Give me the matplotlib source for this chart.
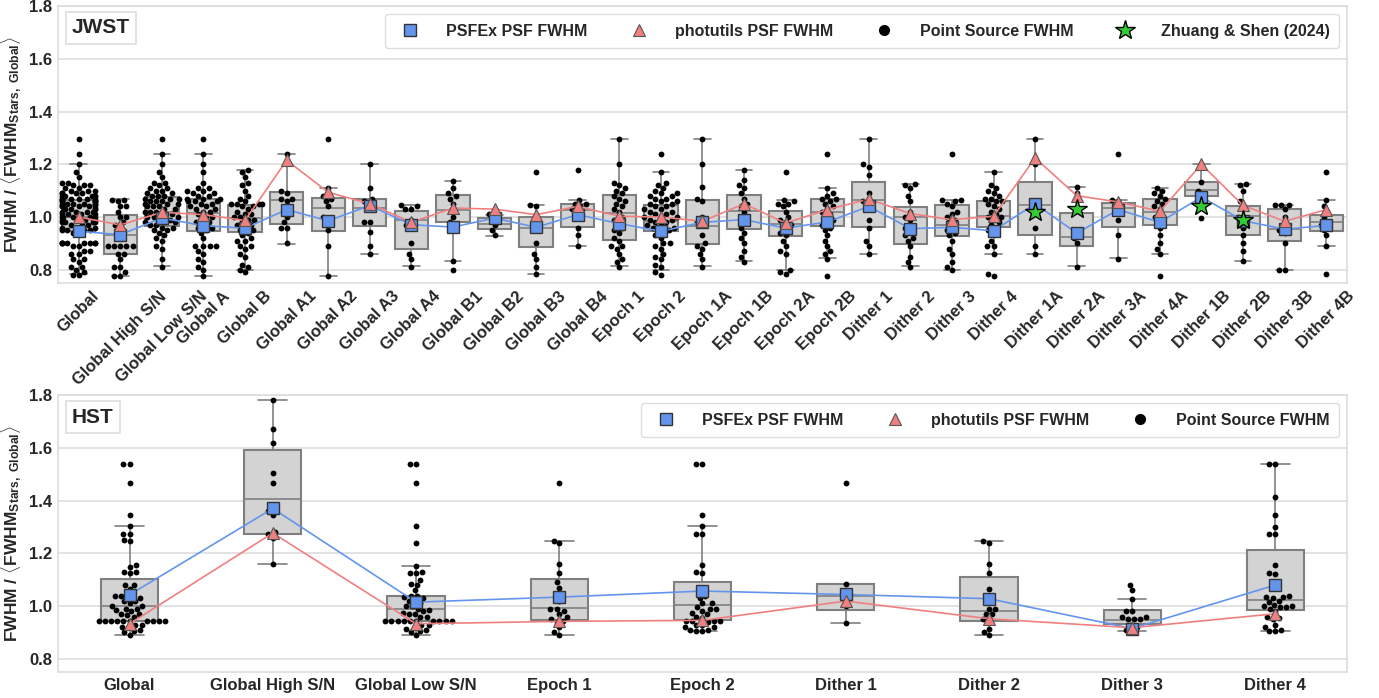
import numpy as np
import pandas as pd
import matplotlib
matplotlib.use('Agg')
import matplotlib.pyplot as plt
from matplotlib.lines import Line2D
import seaborn as sns

# ---------------- JWST data ----------------
jwst_cats = ['Global', 'Global High S/N', 'Global Low S/N', 'Global A', 'Global B',
             'Global A1', 'Global A2', 'Global A3', 'Global A4',
             'Global B1', 'Global B2', 'Global B3', 'Global B4',
             'Epoch 1', 'Epoch 2', 'Epoch 1A', 'Epoch 1B', 'Epoch 2A', 'Epoch 2B',
             'Dither 1', 'Dither 2', 'Dither 3', 'Dither 4',
             'Dither 1A', 'Dither 2A', 'Dither 3A', 'Dither 4A',
             'Dither 1B', 'Dither 2B', 'Dither 3B', 'Dither 4B']

jwst_q1 = [0.946, 0.861, 0.965, 0.948, 0.942, 0.975, 0.948, 0.965, 0.880, 0.981, 0.954,
           0.885, 0.961, 0.914, 0.946, 0.898, 0.956, 0.929, 0.966, 0.964, 0.898, 0.929,
           0.961, 0.930, 0.889, 0.961, 0.971, 1.081, 0.933, 0.910, 0.946]
jwst_med = [1.000, 0.930, 1.020, 1.015, 0.996, 1.066, 1.034, 1.034, 0.990, 1.025, 0.975,
            0.958, 1.028, 1.015, 0.984, 0.965, 1.024, 0.975, 1.019, 1.066, 1.000, 0.971,
            1.002, 1.045, 0.924, 1.035, 1.018, 1.104, 1.005, 0.954, 0.980]
jwst_q3 = [1.066, 1.006, 1.076, 1.068, 1.047, 1.095, 1.072, 1.068, 1.024, 1.082, 0.996,
           1.000, 1.050, 1.082, 1.047, 1.066, 1.082, 1.024, 1.069, 1.131, 1.038, 1.044,
           1.059, 1.131, 1.015, 1.055, 1.069, 1.131, 1.043, 1.030, 1.009]
jwst_lo = [0.785, 0.775, 0.813, 0.775, 0.800, 0.898, 0.775, 0.861, 0.813, 0.834, 0.929,
           0.784, 0.889, 0.813, 0.800, 0.813, 0.834, 0.800, 0.844, 0.861, 0.813, 0.800,
           0.861, 0.861, 0.813, 0.844, 0.861, 1.081, 0.834, 0.800, 0.889]
jwst_hi = [1.200, 1.068, 1.240, 1.240, 1.180, 1.240, 1.110, 1.200, 1.044, 1.135, 1.009,
           1.044, 1.066, 1.296, 1.170, 1.296, 1.180, 1.066, 1.110, 1.296, 1.125, 1.066,
           1.170, 1.296, 1.113, 1.066, 1.110, 1.200, 1.125, 1.047, 1.066]

jwst_psfex = [0.946, 0.933, 0.996, 0.967, 0.958, 1.028, 0.986, 1.043, 0.971, 0.962, 0.996,
              0.961, 1.009, 0.975, 0.946, 0.980, 0.990, 0.958, 0.981, 1.040, 0.956, 0.961,
              0.948, 1.050, 0.939, 1.028, 0.980, 1.076, 0.986, 0.954, 0.968]
jwst_photutils = [1.000, 0.970, 1.018, 1.009, 0.987, 1.215, 1.094, 1.050, 0.980, 1.034, 1.030,
                  1.009, 1.040, 1.003, 1.000, 0.984, 1.050, 0.977, 1.028, 1.068, 1.013, 0.990,
                  1.003, 1.224, 1.081, 1.057, 1.022, 1.200, 1.044, 0.984, 1.028]

zs_cats = ['Dither 1A', 'Dither 2A', 'Dither 1B', 'Dither 2B']
zs_vals = [1.018, 1.030, 1.040, 0.987]

jwst_points = {
    'Global': [1.296, 1.24, 1.2, 1.17, 1.15, 1.13, 1.13, 1.12, 1.12, 1.12, 1.11, 1.11,
               1.10, 1.10, 1.10, 1.09, 1.09, 1.09, 1.09, 1.08, 1.08, 1.08, 1.08, 1.08,
               1.07, 1.07, 1.07, 1.07, 1.07, 1.07, 1.06, 1.06, 1.06, 1.06, 1.06,
               1.05, 1.05, 1.05, 1.05, 1.05, 1.05, 1.04, 1.04, 1.04, 1.04, 1.04,
               1.03, 1.03, 1.03, 1.03, 1.02, 1.02, 1.02, 1.02, 1.01, 1.01, 1.01, 1.01,
               1.0, 1.0, 1.0, 1.0, 1.0, 0.99, 0.99, 0.99, 0.99, 0.98, 0.98, 0.98, 0.98,
               0.97, 0.97, 0.97, 0.96, 0.96, 0.96, 0.95, 0.95, 0.95, 0.95, 0.94, 0.94,
               0.90, 0.90, 0.90, 0.90, 0.90, 0.90, 0.90, 0.90, 0.89, 0.89, 0.87, 0.87,
               0.86, 0.86, 0.84, 0.84, 0.83, 0.81, 0.81, 0.80, 0.79, 0.78, 0.78],
    'Global High S/N': [1.065, 1.065, 1.06, 1.04, 1.04, 1.02, 1.0, 1.0, 0.98, 0.97, 0.96,
                        0.89, 0.89, 0.89, 0.89, 0.89, 0.86, 0.86, 0.84, 0.81, 0.81, 0.79,
                        0.775, 0.775],
    'Global Low S/N': [1.296, 1.24, 1.2, 1.17, 1.15, 1.13, 1.13, 1.12, 1.11, 1.11, 1.10, 1.10,
                       1.09, 1.09, 1.08, 1.08, 1.08, 1.07, 1.07, 1.07, 1.06, 1.06, 1.06,
                       1.05, 1.05, 1.05, 1.04, 1.04, 1.04, 1.03, 1.03, 1.02, 1.02, 1.02,
                       1.01, 1.01, 1.0, 1.0, 1.0, 0.99, 0.99, 0.98, 0.98, 0.98, 0.97, 0.97,
                       0.96, 0.96, 0.95, 0.95, 0.94, 0.93, 0.92, 0.91, 0.89, 0.88, 0.84, 0.81],
    'Global A': [1.296, 1.24, 1.2, 1.17, 1.13, 1.11, 1.11, 1.10, 1.10, 1.09, 1.09, 1.08,
                 1.08, 1.07, 1.07, 1.07, 1.06, 1.06, 1.06, 1.05, 1.05, 1.04, 1.04, 1.03,
                 1.03, 1.02, 1.02, 1.01, 1.0, 1.0, 0.99, 0.98, 0.98, 0.97, 0.96, 0.96,
                 0.95, 0.94, 0.92, 0.89, 0.89, 0.89, 0.89, 0.87, 0.86, 0.84, 0.83, 0.81,
                 0.80, 0.775],
    'Global B': [1.18, 1.17, 1.15, 1.13, 1.12, 1.10, 1.08, 1.07, 1.06, 1.05, 1.05, 1.05,
                 1.05, 1.04, 1.04, 1.03, 1.02, 1.01, 1.01, 1.0, 1.0, 0.99, 0.99, 0.98,
                 0.97, 0.97, 0.96, 0.95, 0.95, 0.94, 0.93, 0.92, 0.91, 0.91, 0.89, 0.89,
                 0.88, 0.86, 0.85, 0.82, 0.81, 0.80, 0.79],
    'Global A1': [1.24, 1.10, 1.09, 1.07, 1.07, 1.06, 1.0, 0.98, 0.96, 0.96, 0.90],
    'Global A2': [1.296, 1.11, 1.08, 1.07, 1.06, 1.04, 1.0, 0.99, 0.95, 0.89, 0.775],
    'Global A3': [1.2, 1.11, 1.07, 1.06, 1.05, 0.98, 0.98, 0.945, 0.89, 0.86],
    'Global A4': [1.045, 1.04, 1.03, 1.03, 0.99, 0.97, 0.96, 0.90, 0.86, 0.84, 0.81],
    'Global B1': [1.135, 1.11, 1.09, 1.08, 1.07, 1.05, 1.0, 0.98, 0.96, 0.834, 0.80],
    'Global B2': [1.01, 1.0, 0.99, 0.97, 0.95, 0.93],
    'Global B3': [1.17, 1.045, 1.04, 0.96, 0.90, 0.86, 0.84, 0.81, 0.785],
    'Global B4': [1.18, 1.065, 1.05, 1.05, 1.04, 1.03, 1.02, 0.96, 0.93, 0.89],
    'Epoch 1': [1.296, 1.2, 1.13, 1.12, 1.11, 1.10, 1.09, 1.08, 1.07, 1.06, 1.05, 1.04,
                1.03, 1.02, 1.0, 0.99, 0.98, 0.96, 0.95, 0.94, 0.92, 0.91, 0.89, 0.89,
                0.88, 0.86, 0.84, 0.83, 0.81],
    'Epoch 2': [1.24, 1.17, 1.13, 1.12, 1.11, 1.10, 1.09, 1.09, 1.08, 1.08, 1.07, 1.07,
                1.06, 1.06, 1.05, 1.05, 1.04, 1.04, 1.03, 1.03, 1.02, 1.02, 1.01, 1.01,
                1.0, 1.0, 1.0, 0.99, 0.99, 0.98, 0.98, 0.97, 0.97, 0.96, 0.96, 0.95, 0.95,
                0.94, 0.93, 0.92, 0.90, 0.90, 0.89, 0.88, 0.86, 0.85, 0.84, 0.82, 0.81,
                0.79, 0.78],
    'Epoch 1A': [1.296, 1.2, 1.115, 1.07, 1.06, 1.0, 0.98, 0.97, 0.93, 0.90, 0.89, 0.88,
                 0.86, 0.84, 0.81],
    'Epoch 1B': [1.18, 1.14, 1.12, 1.11, 1.09, 1.07, 1.05, 1.04, 1.02, 1.0, 0.98, 0.96,
                 0.94, 0.92, 0.90, 0.87, 0.85, 0.83],
    'Epoch 2A': [1.17, 1.065, 1.06, 1.05, 1.05, 1.04, 1.02, 1.0, 0.99, 0.98, 0.97, 0.96,
                 0.95, 0.94, 0.93, 0.91, 0.89, 0.87, 0.86, 0.80, 0.79, 0.785],
    'Epoch 2B': [1.24, 1.11, 1.09, 1.08, 1.07, 1.07, 1.06, 1.05, 1.04, 1.03, 1.02, 1.01,
                 1.0, 0.99, 0.98, 0.97, 0.96, 0.95, 0.93, 0.91, 0.89, 0.87, 0.86, 0.84, 0.775],
    'Dither 1': [1.296, 1.2, 1.19, 1.16, 1.09, 1.06, 1.05, 0.99, 0.96, 0.91, 0.89, 0.86],
    'Dither 2': [1.125, 1.12, 1.11, 1.08, 1.06, 1.02, 1.0, 0.99, 0.96, 0.95, 0.93, 0.92,
                 0.91, 0.89, 0.85, 0.83, 0.81],
    'Dither 3': [1.24, 1.066, 1.065, 1.06, 1.05, 1.04, 1.02, 1.01, 1.0, 0.99, 0.98, 0.96,
                 0.95, 0.94, 0.93, 0.91, 0.88, 0.86, 0.83, 0.81, 0.80],
    'Dither 4': [1.17, 1.12, 1.11, 1.10, 1.09, 1.08, 1.07, 1.07, 1.06, 1.06, 1.05, 1.04,
                 1.03, 1.02, 1.01, 1.0, 1.0, 0.99, 0.98, 0.97, 0.96, 0.95, 0.94, 0.91,
                 0.89, 0.89, 0.86, 0.785, 0.775],
    'Dither 1A': [1.296, 1.2, 1.06, 0.96, 0.89, 0.86],
    'Dither 2A': [1.113, 1.09, 0.92, 0.90, 0.81],
    'Dither 3A': [1.24, 1.066, 1.06, 0.99, 0.93, 0.84],
    'Dither 4A': [1.11, 1.10, 1.09, 1.08, 1.07, 1.06, 1.05, 1.04, 1.03, 1.0, 0.99, 0.98,
                  0.96, 0.93, 0.90, 0.88, 0.86, 0.775],
    'Dither 1B': [1.2, 1.131, 1.10, 1.081, 0.996],
    'Dither 2B': [1.125, 1.12, 1.10, 1.06, 1.04, 1.0, 0.99, 0.96, 0.93, 0.90, 0.87, 0.834],
    'Dither 3B': [1.047, 1.047, 1.047, 1.03, 1.0, 0.96, 0.95, 0.94, 0.90, 0.80, 0.80],
    'Dither 4B': [1.17, 1.066, 1.04, 1.02, 1.0, 0.98, 0.97, 0.96, 0.95, 0.93, 0.889, 0.784],
}

# ---------------- HST data ----------------
hst_cats = ['Global', 'Global High S/N', 'Global Low S/N', 'Epoch 1', 'Epoch 2',
            'Dither 1', 'Dither 2', 'Dither 3', 'Dither 4']
hst_q1 = [0.943, 1.273, 0.943, 0.946, 0.946, 0.986, 0.943, 0.933, 0.986]
hst_med = [1.000, 1.405, 0.990, 0.992, 1.003, 1.038, 0.981, 0.948, 1.024]
hst_q3 = [1.103, 1.591, 1.038, 1.103, 1.093, 1.084, 1.109, 0.984, 1.214]
hst_lo = [0.889, 1.160, 0.889, 0.889, 0.904, 0.936, 0.889, 0.906, 0.906]
hst_hi = [1.303, 1.782, 1.153, 1.248, 1.303, 1.084, 1.248, 1.028, 1.540]
hst_psfex = [1.043, 1.370, 1.015, 1.034, 1.057, 1.044, 1.028, 0.915, 1.080]
hst_photutils = [0.933, 1.277, 0.933, 0.942, 0.946, 1.019, 0.952, 0.918, 0.971]

hst_points = {
    'Global': [1.54, 1.54, 1.468, 1.346, 1.303, 1.275, 1.275, 1.25, 1.245, 1.155, 1.15,
               1.13, 1.125, 1.13, 1.08, 1.08, 1.065, 1.04, 1.04, 1.04, 1.03, 1.02, 1.02,
               1.01, 1.0, 1.0, 0.99, 0.99, 0.985, 0.98, 0.97, 0.97, 0.965, 0.96,
               0.945, 0.945, 0.945, 0.945, 0.945, 0.945, 0.945, 0.945, 0.945, 0.945,
               0.93, 0.93, 0.92, 0.92, 0.91, 0.905, 0.9, 0.889],
    'Global High S/N': [1.782, 1.67, 1.62, 1.505, 1.465, 1.36, 1.345, 1.28, 1.275, 1.26, 1.16],
    'Global Low S/N': [1.54, 1.54, 1.468, 1.303, 1.24, 1.153, 1.13, 1.125, 1.125, 1.10,
                       1.085, 1.08, 1.06, 1.04, 1.04, 1.035, 1.03, 1.02, 1.02, 1.01, 1.0,
                       1.0, 0.99, 0.985, 0.98, 0.975, 0.97, 0.97, 0.96, 0.96,
                       0.945, 0.945, 0.945, 0.945, 0.945, 0.945, 0.945, 0.945, 0.945,
                       0.945, 0.93, 0.93, 0.92, 0.915, 0.91, 0.905, 0.9, 0.889],
    'Epoch 1': [1.468, 1.248, 1.24, 1.16, 1.125, 1.09, 1.07, 1.04, 1.02, 0.99, 0.99, 0.98,
                0.97, 0.96, 0.95, 0.945, 0.94, 0.92, 0.9, 0.889],
    'Epoch 2': [1.54, 1.54, 1.346, 1.303, 1.275, 1.275, 1.155, 1.13, 1.125, 1.07, 1.04,
                1.03, 1.01, 1.01, 0.995, 0.99, 0.99, 0.98, 0.975, 0.97, 0.96, 0.955,
                0.945, 0.945, 0.945, 0.945, 0.94, 0.93, 0.93, 0.92, 0.92, 0.91, 0.91,
                0.904, 0.904],
    'Dither 1': [1.468, 1.084, 1.04, 1.0, 0.936],
    'Dither 2': [1.248, 1.24, 1.16, 1.125, 1.065, 0.99, 0.99, 0.97, 0.97, 0.95, 0.95,
                 0.915, 0.9, 0.889],
    'Dither 3': [1.08, 1.06, 1.028, 0.98, 0.98, 0.96, 0.96, 0.95, 0.95, 0.95, 0.93, 0.92,
                 0.91, 0.906],
    'Dither 4': [1.54, 1.54, 1.415, 1.345, 1.30, 1.275, 1.275, 1.155, 1.125, 1.12, 1.04,
                 1.035, 1.035, 1.03, 1.02, 1.015, 1.005, 1.0, 1.0, 0.995, 0.99, 0.995,
                 0.98, 0.96, 0.955, 0.95, 0.93, 0.92, 0.91, 0.906, 0.906],
}

# ---------------- style ----------------
sns.set_style('whitegrid')
plt.rcParams['font.family'] = ['Liberation Sans', 'DejaVu Sans']
plt.rcParams['font.weight'] = 'bold'
plt.rcParams['mathtext.fontset'] = 'custom'
plt.rcParams['mathtext.rm'] = 'Liberation Sans:bold'
plt.rcParams['mathtext.bf'] = 'Liberation Sans:bold'
plt.rcParams['mathtext.it'] = 'Liberation Sans:bold'

BLUE = '#6495ED'
PINK = '#F08080'
GREEN = '#32CD32'
TXT = '#262626'
ylab = r'FWHM / $\langle$FWHM$_{\mathbf{Stars,\ Global}}\rangle$'

fig = plt.figure(figsize=(13.79, 6.98), dpi=100)
ax1 = fig.add_axes([0.042, 0.5946, 0.9348, 0.3968])
ax2 = fig.add_axes([0.042, 0.0372, 0.9348, 0.3968])


def draw_panel(ax, cats, points, q1, med, q3, lo, hi, psfex, phot, width):
    n = len(cats)
    ax.set_ylim(0.75, 1.8)
    ax.set_xlim(-0.5, n - 0.5)
    stats = [dict(q1=a, med=m, q3=b, whislo=l, whishi=h, fliers=[])
             for a, m, b, l, h in zip(q1, med, q3, lo, hi)]
    ax.bxp(stats, positions=range(n), widths=width, patch_artist=True,
           showfliers=False, manage_ticks=False,
           boxprops=dict(facecolor='#d3d3d3', edgecolor='#7f7f7f', linewidth=1.5),
           medianprops=dict(color='#7f7f7f', linewidth=1.2),
           whiskerprops=dict(color='#7f7f7f', linewidth=1.2),
           capprops=dict(color='#7f7f7f', linewidth=1.2), zorder=2)
    df = pd.DataFrame([(c, v) for c in cats for v in points[c]], columns=['cat', 'val'])
    sns.swarmplot(data=df, x='cat', y='val', order=cats, ax=ax, color='black',
                  size=4.2, zorder=3, warn_thresh=1.0)
    ax.plot(range(n), psfex, color=BLUE, lw=1.2, zorder=4)
    ax.plot(range(n), phot, color=PINK, lw=1.2, zorder=4)
    ax.plot(range(n), psfex, ls='none', marker='s', ms=8, mfc=BLUE, mec='#333333',
            mew=1.0, zorder=5)
    ax.plot(range(n), phot, ls='none', marker='^', ms=8.5, mfc=PINK, mec='#555555',
            mew=0.8, zorder=5)
    ax.set_xlim(-0.5, n - 0.5)
    ax.set_ylim(0.75, 1.8)
    ax.set_yticks([0.8, 1.0, 1.2, 1.4, 1.6, 1.8])
    ax.yaxis.set_major_formatter(matplotlib.ticker.FormatStrFormatter('%.1f'))
    ax.xaxis.grid(False)
    ax.yaxis.grid(True, color='#dddddd', lw=1.2)
    for s in ax.spines.values():
        s.set_color('#dddddd')
        s.set_linewidth(1.2)
    ax.set_xlabel('')
    ax.set_ylabel(ylab, fontsize=12.5, fontweight='bold', color=TXT)
    ax.tick_params(axis='both', labelsize=12, colors=TXT, length=0, pad=4)
    for lab in ax.get_xticklabels() + ax.get_yticklabels():
        lab.set_fontweight('bold')


draw_panel(ax1, jwst_cats, jwst_points, jwst_q1, jwst_med, jwst_q3, jwst_lo, jwst_hi,
           jwst_psfex, jwst_photutils, 0.8)
zs_pos = [jwst_cats.index(c) for c in zs_cats]
ax1.plot(zs_pos, zs_vals, ls='none', marker='*', ms=15, mfc=GREEN, mec='black',
         mew=1.0, zorder=6)
plt.setp(ax1.get_xticklabels(), rotation=45, ha='center')

draw_panel(ax2, hst_cats, hst_points, hst_q1, hst_med, hst_q3, hst_lo, hst_hi,
           hst_psfex, hst_photutils, 0.4)

box_kw = dict(boxstyle='square,pad=0.3', fc='white', ec='#dddddd', lw=1.2)
ax1.text(0.011, 0.955, 'JWST', transform=ax1.transAxes, fontsize=15, fontweight='bold',
         color=TXT, va='top', ha='left', bbox=box_kw, zorder=7)
ax2.text(0.011, 0.955, 'HST', transform=ax2.transAxes, fontsize=15, fontweight='bold',
         color=TXT, va='top', ha='left', bbox=box_kw, zorder=7)

h_psfex = Line2D([], [], ls='none', marker='s', ms=8, mfc=BLUE, mec='#333333', mew=1.0)
h_phot = Line2D([], [], ls='none', marker='^', ms=8.5, mfc=PINK, mec='#555555', mew=0.8)
h_pts = Line2D([], [], ls='none', marker='o', ms=7, mfc='black', mec='black')
h_zs = Line2D([], [], ls='none', marker='*', ms=15, mfc=GREEN, mec='black', mew=1.0)

leg_kw = dict(loc='upper right', frameon=True, handletextpad=1.25, columnspacing=2.2,
              borderpad=0.6, prop=dict(weight='bold', size=11.5), labelcolor=TXT,
              edgecolor='#dddddd', framealpha=1.0)
l1 = ax1.legend([h_psfex, h_phot, h_pts, h_zs],
                ['PSFEx PSF FWHM', 'photutils PSF FWHM', 'Point Source FWHM',
                 'Zhuang & Shen (2024)'], ncol=4, **leg_kw)
l2 = ax2.legend([h_psfex, h_phot, h_pts],
                ['PSFEx PSF FWHM', 'photutils PSF FWHM', 'Point Source FWHM'],
                ncol=3, **leg_kw)
for l in (l1, l2):
    l.set_zorder(8)

fig.savefig('out.png', dpi=100)
